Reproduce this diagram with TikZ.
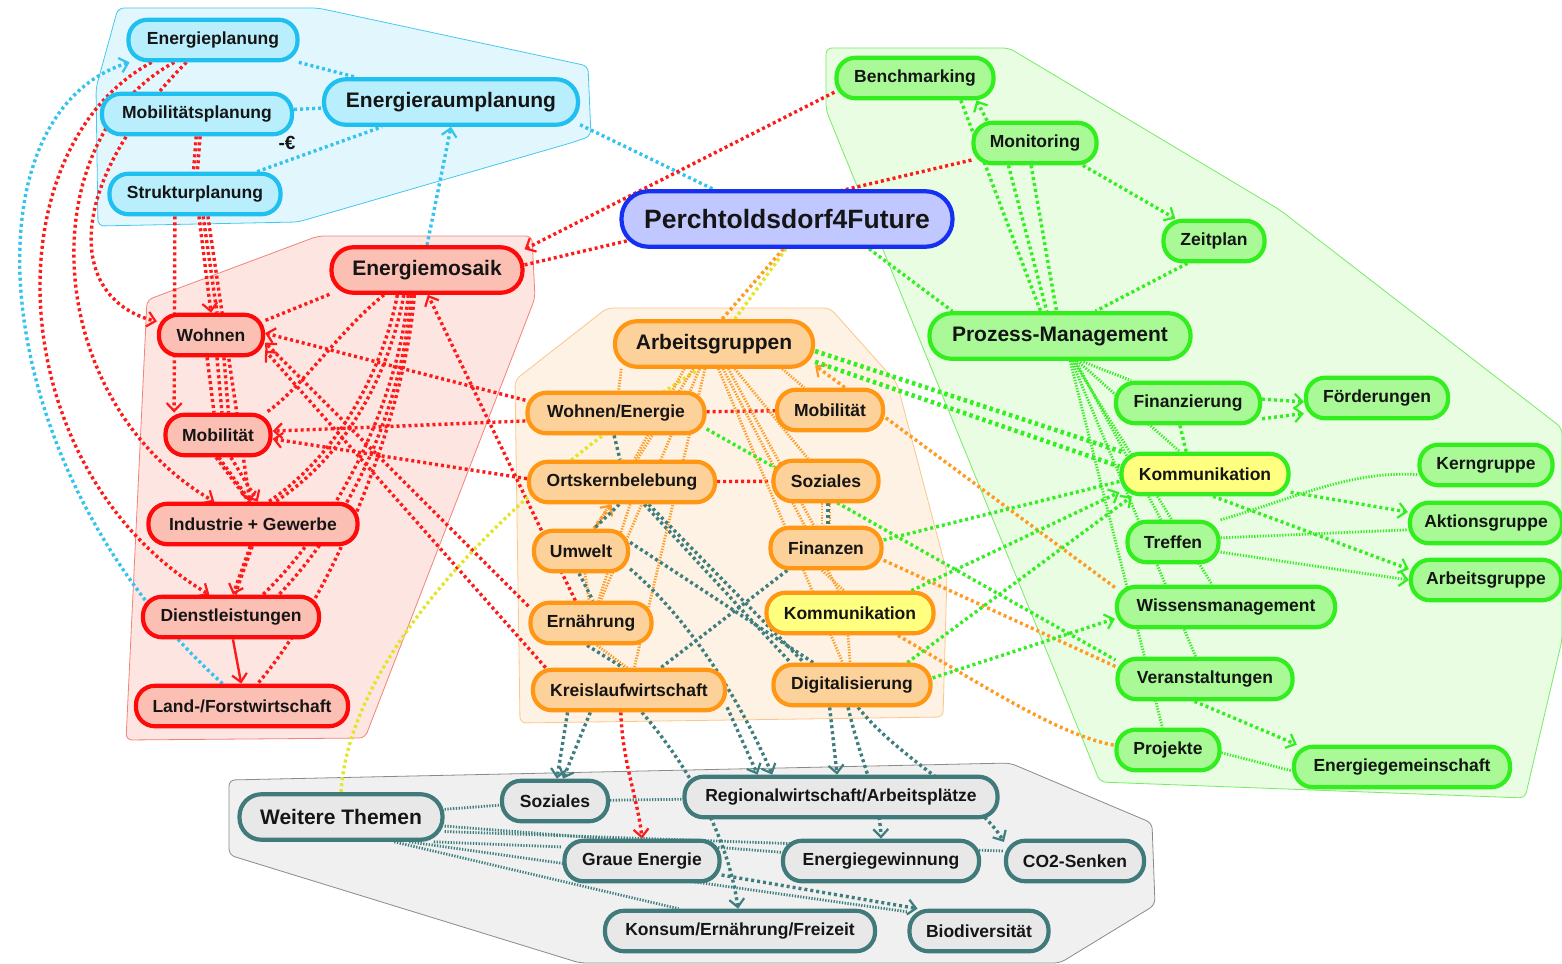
\documentclass[tikz,border=0pt]{standalone}
\usepackage{fontspec}
\setmainfont{Liberation Sans}
\usetikzlibrary{arrows.meta}
\pgfdeclarelayer{grp}
\pgfdeclarelayer{edg}
\pgfsetlayers{grp,edg,main}
\definecolor{bnF}{HTML}{B9EEFC}
\definecolor{bnD}{HTML}{1FBFEF}
\definecolor{bgF}{HTML}{E2F7FD}
\definecolor{bgD}{HTML}{45C8F0}
\definecolor{rnF}{HTML}{FCBFB3}
\definecolor{rnD}{HTML}{FF0A0A}
\definecolor{rgF}{HTML}{FDE5E1}
\definecolor{rgD}{HTML}{F2837A}
\definecolor{onF}{HTML}{FDD19A}
\definecolor{onD}{HTML}{FF9715}
\definecolor{ogF}{HTML}{FDF2E3}
\definecolor{ogD}{HTML}{F9C78C}
\definecolor{gnF}{HTML}{A9FA97}
\definecolor{gnD}{HTML}{33EE1F}
\definecolor{ggF}{HTML}{E8FDE1}
\definecolor{ggD}{HTML}{77EB66}
\definecolor{ynF}{HTML}{FFFF80}
\definecolor{tnF}{HTML}{E8E8E8}
\definecolor{tnD}{HTML}{417A7A}
\definecolor{tgF}{HTML}{F0F0F0}
\definecolor{tgD}{HTML}{8A8A8A}
\definecolor{pnF}{HTML}{C1C8FF}
\definecolor{pnD}{HTML}{1530F0}
\definecolor{cyC}{HTML}{33C3EE}
\definecolor{rdC}{HTML}{FF1A1A}
\definecolor{orC}{HTML}{FF9A22}
\definecolor{grC}{HTML}{33EE22}
\definecolor{tlC}{HTML}{3F7E7E}
\definecolor{ylC}{HTML}{E4E42A}
\definecolor{txC}{HTML}{151515}
\newcommand\FontSm{\fontsize{17.5}{20}\selectfont\bfseries}
\newcommand\FontMd{\fontsize{21}{24}\selectfont\bfseries}
\newcommand\FontLg{\fontsize{26.5}{30}\selectfont\bfseries}
\begin{document}
\begin{tikzpicture}[x=1pt,y=-1pt,
  nd/.style={draw, line width=4.2pt, rounded corners=19pt, minimum height=40.5pt, inner sep=0pt, text=txC, font=\FontSm},
  md/.style={minimum height=45.5pt, rounded corners=22pt, font=\FontMd},
  lg/.style={minimum height=55.5pt, rounded corners=27pt, font=\FontLg},
  bn/.style={nd, fill=bnF, draw=bnD},
  rn/.style={nd, fill=rnF, draw=rnD},
  on/.style={nd, fill=onF, draw=onD},
  yo/.style={nd, fill=ynF, draw=onD},
  gn/.style={nd, fill=gnF, draw=gnD},
  yg/.style={nd, fill=ynF, draw=gnD},
  tn/.style={nd, fill=tnF, draw=tnD},
  pn/.style={nd, lg, fill=pnF, draw=pnD},
  grpbox/.style={rounded corners=6pt, line width=0.8pt},
  con/.style={line width=3.4pt, dash pattern=on 3pt off 3pt},
  fin/.style={line width=2.8pt, dash pattern=on 1.3pt off 1.5pt},
  ar/.style={-{Straight Barb[length=8pt,width=15pt,line width=2.2pt]}},
  cc/.style={con, draw=cyC},
  rc/.style={con, draw=rdC},
  rcs/.style={line width=2.4pt, draw=rdC},
  oc/.style={con, draw=orC},
  ocf/.style={fin, draw=orC},
  gc/.style={con, draw=grC},
  gcf/.style={fin, draw=grC},
  gcb/.style={line width=4.6pt, dash pattern=on 3.4pt off 3.4pt, draw=grC},
  tc/.style={con, draw=tlC},
  tcf/.style={fin, draw=tlC},
  yc/.style={con, draw=ylC}
]
\useasboundingbox (0,0) rectangle (1562,963);

% ---------- groups ----------
\begin{pgfonlayer}{grp}
\draw[grpbox, fill=bgF, draw=bgD] (118,8) -- (318,8) -- (588,66) -- (591,136) -- (574,142) -- (298,222) -- (98,226) -- (96,88) -- cycle;
\draw[grpbox, fill=rgF, draw=rgD] (318,236) -- (532,236) -- (535,298) -- (365,738) -- (126,740) -- (147,300) -- cycle;
\draw[grpbox, fill=ogF, draw=ogD] (515,380) -- (607,308) -- (830,308) -- (897,383) -- (947,573) -- (943,717) -- (520,723) -- cycle;
\draw[grpbox, fill=ggF, draw=ggD] (826,48) -- (1009,48) -- (1280,210) -- (1562,428) -- (1562,640) -- (1525,798) -- (1100,782) -- (826,110) -- cycle;
\draw[grpbox, fill=tgF, draw=tgD] (229,780) -- (1010,763) -- (1152,823) -- (1155,905) -- (1060,963) -- (580,963) -- (229,855) -- cycle;
\end{pgfonlayer}

% ---------- nodes ----------
\node[bn, minimum width=169pt] (ep) at (213,40) {Energieplanung};
\node[bn, minimum width=190pt] (mp) at (197,114) {Mobilitätsplanung};
\node[bn, md, minimum width=254pt] (erp) at (451,102) {Energieraumplanung};
\node[bn, minimum width=171pt] (sp) at (195,194) {Strukturplanung};
\node[font=\fontsize{19}{20}\selectfont\bfseries, text=txC, inner sep=0pt] (euro) at (287,143) {-€};

\node[pn, minimum width=331pt] (p4f) at (787,219) {Perchtoldsdorf4Future};

\node[rn, md, minimum width=191pt] (em) at (427,270) {Energiemosaik};
\node[rn, minimum width=104pt] (rwo) at (211,335) {Wohnen};
\node[rn, minimum width=105pt] (rmo) at (218,435) {Mobilität};
\node[rn, minimum width=209pt] (rig) at (253,524) {Industrie + Gewerbe};
\node[rn, minimum width=176pt] (rdl) at (231,617) {Dienstleistungen};
\node[rn, minimum width=212pt] (rlf) at (242,706) {Land-/Forstwirtschaft};

\node[on, md, minimum width=198pt] (ag) at (714,344) {Arbeitsgruppen};
\node[on, minimum width=177pt] (owe) at (616,413) {Wohnen/Energie};
\node[on, minimum width=106pt] (omo) at (830,410) {Mobilität};
\node[on, minimum width=186pt] (ook) at (622,482) {Ortskernbelebung};
\node[on, minimum width=105pt] (oso) at (826,481) {Soziales};
\node[on, minimum width=94pt] (oum) at (581,551) {Umwelt};
\node[on, minimum width=111pt] (ofi) at (826,548) {Finanzen};
\node[yo, minimum width=167pt] (oko) at (850,613) {Kommunikation};
\node[on, minimum width=121pt] (oer) at (591,623) {Ernährung};
\node[on, minimum width=192pt] (okr) at (629,690) {Kreislaufwirtschaft};
\node[on, minimum width=157pt] (odi) at (852,685) {Digitalisierung};

\node[gn, minimum width=157pt] (gbe) at (915,78) {Benchmarking};
\node[gn, minimum width=123pt] (gmo) at (1035,143) {Monitoring};
\node[gn, minimum width=101pt] (gze) at (1214,241) {Zeitplan};
\node[gn, md, minimum width=261pt] (gpm) at (1060,336) {Prozess-Management};
\node[gn, minimum width=144pt] (gfi) at (1188,403) {Finanzierung};
\node[gn, minimum width=142pt] (gfo) at (1377,398) {Förderungen};
\node[yg, minimum width=167pt] (gko) at (1205,474) {Kommunikation};
\node[gn, minimum width=133pt] (gke) at (1486,465) {Kerngruppe};
\node[gn, minimum width=91pt] (gtr) at (1173,542) {Treffen};
\node[gn, minimum width=152pt] (gak) at (1486,523) {Aktionsgruppe};
\node[gn, minimum width=150pt] (gag) at (1486,580) {Arbeitsgruppe};
\node[gn, minimum width=218pt] (gwi) at (1226,607) {Wissensmanagement};
\node[gn, minimum width=175pt] (gve) at (1205,679) {Veranstaltungen};
\node[gn, minimum width=103pt] (gpr) at (1168,750) {Projekte};
\node[gn, minimum width=216pt] (geg) at (1402,767) {Energiegemeinschaft};

\node[tn, md, minimum width=203pt] (wt) at (341,817) {Weitere Themen};
\node[tn, minimum width=106pt] (tso) at (555,801) {Soziales};
\node[tn, minimum width=313pt] (trw) at (841,797) {Regionalwirtschaft/Arbeitsplätze};
\node[tn, minimum width=155pt] (tge) at (642,861) {Graue Energie};
\node[tn, minimum width=196pt] (teg) at (881,861) {Energiegewinnung};
\node[tn, minimum width=138pt] (tco) at (1075,861) {CO2-Senken};
\node[tn, minimum width=270pt] (tko) at (740,931) {Konsum/Ernährung/Freizeit};
\node[tn, minimum width=139pt] (tbi) at (979,931) {Biodiversität};

% ---------- connectors ----------
\begin{pgfonlayer}{edg}
% cyan
\draw[cc] (ep) -- (erp);
\draw[cc] (mp) -- (erp);
\draw[cc] (sp) -- (erp);
\draw[cc] (erp.-10) -- (p4f.158);
\draw[cc,ar] (em.north) -- (erp.south);
\draw[cc,ar] (rlf.131) .. controls (-15,470) and (-40,115) .. (ep.-165);

% red, left curves
\draw[rc,ar] (ep.-160) .. controls (-10,150) and (0,470) .. (rdl.134);
\draw[rc,ar] (ep.-150) .. controls (30,140) and (40,400) .. (rig.150);
\draw[rc,ar] (ep.-140) .. controls (60,190) and (70,300) .. (rwo.166);

% red, vertical chain
\draw[rc] (mp.-92) -- (sp.94);
\draw[rc] (mp.-82) -- (sp.84);
\draw[rc,ar] (sp.-80) -- (rwo.north);
\draw[rc,ar] (sp.-132) -- (rmo.153);
\draw[rc,ar] (sp.-60) -- (rig.98);
\draw[rc] (sp.-70) -- (rwo.75);
\draw[rc] (rwo.-100) -- (rmo.100);
\draw[rc] (rwo.-75) -- (rmo.80);
\draw[rc] (rwo.-60) -- (rmo.65);
\draw[rc,ar] (rmo.-60) -- (rig.78);
\draw[rc] (rmo.-95) -- (rig.100);
\draw[rc] (rmo.-88) -- (rig.96);
\draw[rc,ar] (rig.-97) -- (rdl.85);
\draw[rc] (rig.-92) -- (rdl.80);
\draw[rcs,ar] (rdl.-85) -- (rlf.92);

% red, Energiemosaik fan
\draw[rc] (em.-166) -- (rwo.15);
\draw[rc] (em.-150) .. controls (340,330) and (300,390) .. (rmo.25);
\draw[rc] (em.-140) .. controls (385,360) and (345,450) .. (rig.55);
\draw[rc] (em.-133) .. controls (392,360) and (355,450) .. (rig.45);
\draw[rc] (em.-127) .. controls (398,400) and (340,520) .. (rdl.35);
\draw[rc] (em.-122) .. controls (402,410) and (350,520) .. (rdl.25);
\draw[rc] (em.-117) .. controls (405,420) and (330,600) .. (rlf.55);

% red, to Energiemosaik
\draw[rc,ar] (gbe.190) -- (em.12);
\draw[rc] (gmo.195) -- (em.3);
\draw[rc,ar] (oer.125) -- (em.-88);

% red, orange group to red group
\draw[rc,ar] (owe.172) -- (rwo.2);
\draw[rc,ar] (oer.165) -- (rwo.-8);
\draw[rc,ar] (okr.165) -- (rwo.-16);
\draw[rc,ar] (owe.185) -- (rmo.4);
\draw[rc,ar] (ook.178) -- (rmo.-4);
\draw[rc] (owe) -- (omo);
\draw[rc] (ook) -- (oso);
\draw[rc,ar] (okr.-110) .. controls (622,760) and (638,800) .. (tge.north);

% yellow
\draw[yc] (p4f.-92) -- (ag.50);
\draw[yc] (wt.north) .. controls (350,650) and (520,480) .. (ag.-120);

% orange
\draw[oc] (p4f.-97) -- (ag.72);
\draw[oc,ar] (gwi.170) -- (ag.-12);
\draw[ocf] (ag.-165) -- (owe);
\draw[ocf] (ag.-140) -- (ook);
\draw[ocf] (ag.-130) -- (oum);
\draw[ocf] (ag.-120) -- (oer);
\draw[ocf] (ag.-110) -- (okr);
\draw[ocf] (ag.-20) -- (omo);
\draw[ocf] (ag.-50) -- (oso);
\draw[ocf] (ag.-60) -- (ofi);
\draw[ocf] (ag.-70) -- (oko);
\draw[ocf] (ag.-80) -- (odi);
\draw[oc,ar] (oum.60) -- (ook.-115);
\draw[ocf] (ook.-70) -- (oer.72);
\draw[ocf] (oum.-80) -- (oer.95);
\draw[ocf] (oer.-75) -- (okr.95);
\draw[ocf] (oso.-100) -- (ofi.100);
\draw[ocf] (oso.-80) -- (ofi.80);
\draw[ocf] (ofi.-100) -- (oko.105);
\draw[ocf] (oko.-95) -- (odi.95);
\draw[oc] (ofi.-12) -- (gve.172);
\draw[oc] (oko.-25) .. controls (990,690) and (1060,735) .. (gpr.175);

% green
\draw[gc] (p4f.-20) -- (gpm.167);
\draw[gc] (gbe.-26) -- (gpm.128);
\draw[gc,ar] (gmo.155) -- (gbe.-20);
\draw[gc] (gmo.-100) -- (gpm.98);
\draw[gc] (gmo.-140) -- (gpm.118);
\draw[gc,ar] (gmo.-25) -- (gze.150);
\draw[gc] (gze.-140) -- (gpm.35);
\draw[gcf] (gpm.-50) -- (gfi);
\draw[gcf] (gpm.-55) -- (gko);
\draw[gcf] (gpm.-58) -- (gtr);
\draw[gcf] (gpm.-62) -- (gwi);
\draw[gcf] (gpm.-65) -- (gve);
\draw[gcf] (gpm.-68) -- (gpr);
\draw[gc,ar] (gfi.3) -- (gfo.183);
\draw[gc,ar] (gfi.-12) -- (gfo.-168);
\draw[gc] (gfi.-110) -- (gko.130);
\draw[gcb] (ag.-4) -- (gko.165);
\draw[gcb] (ag.-10) -- (gko.175);
\draw[gc] (owe.-10) -- (gve.168);
\draw[gc] (ofi.8) -- (gko.185);
\draw[gc,ar] (oko.20) -- (gko.192);
\draw[gc,ar] (odi.22) -- (gko.197);
\draw[gc,ar] (odi.5) -- (gwi.186);
\draw[gc,ar] (gko.-12) -- (gak.172);
\draw[gc,ar] (gko.-70) -- (gag.172);
\draw[gcf] (gtr.25) .. controls (1290,500) and (1350,470) .. (gke.188);
\draw[gcf] (gtr.5) -- (gak.185);
\draw[gcf,ar] (gtr.-12) -- (gag.180);
\draw[gc,ar] (gve.-115) -- (geg.168);
\draw[gcf] (gpr.-3) -- (geg.-178);

% teal
\draw[tc] (owe.-95) -- (ook.95);
\draw[tc] (ook.-97) -- (oum.60);
\draw[tc,ar] (okr.-160) -- (tso.85);
\draw[tc,ar] (okr.-150) -- (tso.70);
\draw[tc] (ook.-45) -- (odi.160);
\draw[tc] (ook.-40) -- (odi.155);
\draw[tc,ar] (oum.-20) .. controls (690,620) and (740,700) .. (trw.162);
\draw[tc] (oum.10) -- (odi.150);
\draw[tc] (ofi.-150) -- (okr.35);
\draw[tc] (oso.-85) -- (ofi.85);
\draw[tc] (oer.-100) -- (okr.105);
\draw[tc] (oum.-95) -- (oer.85);
\draw[tc,ar] (okr.-60) .. controls (700,780) and (730,850) .. (tko.95);
\draw[tc,ar] (okr.-10) -- (trw.165);
\draw[tc,ar] (odi.-135) -- (trw.100);
\draw[tc,ar] (odi.-100) .. controls (860,760) and (880,800) .. (teg.90);
\draw[tc,ar] (odi.-75) .. controls (900,760) and (980,800) .. (tco.165);
\draw[tcf] (wt) -- (tso);
\draw[tcf] (tso) -- (trw);
\draw[tcf] (wt.-5) -- (teg.175);
\draw[tcf] (wt.-8) -- (tco.172);
\draw[tcf] (wt.-15) -- (tge.170);
\draw[tcf] (wt.-25) -- (tko.160);
\draw[tcf] (wt.-20) -- (tbi.165);
\draw[tc,ar] (tge.-10) -- (tbi.160);
\end{pgfonlayer}
\end{tikzpicture}
\end{document}
